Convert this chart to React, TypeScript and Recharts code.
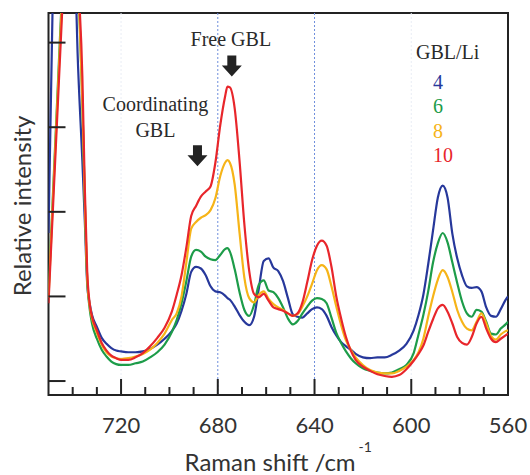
import { LineChart, Line, XAxis, YAxis, ReferenceLine, ReferenceArea, ReferenceDot, Legend } from 'recharts'

// Raman shift (cm-1)
const shifts = [
  750, 748, 746, 744, 742, 740, 738, 736, 735, 734,
  733, 732, 730, 728, 726, 724, 722, 720, 717, 714,
  711, 708, 705, 702, 699, 697, 695, 693, 691, 689,
  687, 685, 683, 681, 679, 677, 676, 675, 673, 671,
  669, 667, 665, 663, 661, 659, 657, 655, 653, 651,
  649, 647, 645, 643, 641, 639, 637, 635, 633, 631,
  629, 627, 625, 623, 620, 617, 614, 611, 608, 605,
  602, 599, 597, 595, 593, 591, 589, 587, 585, 583,
  581, 579, 577, 575, 573, 571, 569, 567, 565, 563,
  561, 560,
]

// relative intensity, GBL/Li = 4
const gblLi4 = [
  1.75, 4.9, 6.5, 7.5, 7.6, 6.0, 3.9, 2.6, 1.9, 1.15,
  0.92, 0.78, 0.64, 0.51, 0.44, 0.39, 0.36, 0.35, 0.34, 0.34,
  0.35, 0.38, 0.43, 0.5, 0.59, 0.68, 0.83, 1.03, 1.29, 1.35,
  1.33, 1.25, 1.12, 1.06, 1.05, 1.01, 0.98, 0.96, 0.88, 0.78,
  0.7, 0.66, 0.76, 1.1, 1.42, 1.45, 1.34, 1.3, 1.18, 0.98,
  0.79, 0.76, 0.75, 0.8, 0.85, 0.87, 0.85, 0.77, 0.64, 0.54,
  0.46, 0.41, 0.37, 0.32, 0.28, 0.27, 0.28, 0.28, 0.31, 0.36,
  0.44, 0.6, 0.78, 1.02, 1.38, 1.78, 2.17, 2.31, 2.17, 1.74,
  1.45, 1.25, 1.12, 1.1, 1.11, 1.06, 0.87, 0.77, 0.76, 0.85,
  0.96, 1.0,
]

// GBL/Li = 6
const gblLi6 = [
  1.04, 2.31, 3.58, 4.85, 6.1, 6.2, 5.0, 3.3, 2.15, 1.2,
  0.86, 0.68, 0.5, 0.37, 0.29, 0.23, 0.2, 0.19, 0.19, 0.21,
  0.23, 0.28, 0.34, 0.43, 0.58, 0.72, 0.92, 1.18, 1.47, 1.55,
  1.53, 1.47, 1.44, 1.43, 1.49, 1.56, 1.57, 1.53, 1.32, 1.05,
  0.84, 0.77, 0.9, 1.14, 1.19, 1.07, 1.05, 0.98, 0.87, 0.74,
  0.67, 0.71, 0.8, 0.88, 0.95, 0.98, 0.97, 0.92, 0.75, 0.57,
  0.45, 0.35, 0.27, 0.21, 0.15, 0.12, 0.1, 0.09, 0.1, 0.14,
  0.19, 0.33, 0.55, 0.78, 1.06, 1.4, 1.63, 1.75, 1.64, 1.4,
  1.16, 0.94, 0.8, 0.76, 0.84, 0.82, 0.7, 0.56, 0.55, 0.62,
  0.67, 0.7,
]

// GBL/Li = 8
const gblLi8 = [
  0.98, 2.25, 3.5, 4.75, 6.0, 6.2, 5.0, 3.3, 2.15, 1.22,
  0.9, 0.74, 0.57, 0.43, 0.34, 0.29, 0.27, 0.26, 0.27, 0.29,
  0.32, 0.37, 0.45, 0.56, 0.72, 0.8, 1.0, 1.4, 1.8, 1.88,
  1.93, 1.96, 2.02, 2.16, 2.42, 2.58, 2.61, 2.58, 2.32, 1.75,
  1.22, 0.98, 0.93, 1.02, 1.06, 0.97, 0.91, 0.87, 0.84, 0.8,
  0.77, 0.79, 0.88, 1.0, 1.15, 1.31, 1.37, 1.32, 1.12, 0.88,
  0.66, 0.48, 0.37, 0.28, 0.19, 0.13, 0.1, 0.09, 0.09, 0.12,
  0.17, 0.25, 0.34, 0.5, 0.76, 1.0, 1.2, 1.31, 1.23, 1.05,
  0.84, 0.7, 0.62, 0.6, 0.7, 0.8, 0.68, 0.53, 0.49, 0.55,
  0.59, 0.6,
]

// GBL/Li = 10
const gblLi10 = [
  0.92, 2.14, 3.36, 4.58, 5.8, 6.4, 4.9, 3.6, 2.3, 1.3,
  0.92, 0.76, 0.6, 0.45, 0.36, 0.3, 0.27, 0.25, 0.25, 0.28,
  0.33, 0.41, 0.51, 0.63, 0.82, 1.02, 1.25, 1.58, 1.95, 2.07,
  2.18, 2.24, 2.3, 2.58, 3.02, 3.36, 3.48, 3.47, 3.22, 2.6,
  1.85, 1.3, 1.03, 0.99, 1.03, 0.95, 0.87, 0.85, 0.83, 0.8,
  0.77, 0.8, 0.93, 1.17, 1.43, 1.6, 1.66, 1.6, 1.35, 1.0,
  0.74, 0.52, 0.36, 0.25, 0.17, 0.12, 0.08, 0.06, 0.05, 0.07,
  0.14, 0.24, 0.32, 0.42, 0.58, 0.73, 0.86, 0.9, 0.82, 0.68,
  0.52, 0.45, 0.43, 0.52, 0.68, 0.76, 0.62, 0.5, 0.46, 0.5,
  0.54, 0.56,
]

const xTicks = [740, 730, 720, 710, 700, 690, 680, 670, 660, 650, 640, 630, 620, 610, 600, 590, 580, 570, 560]
const xTickLabels = [720, 680, 640, 600, 560]
const yTicks = [0, 1, 2, 3, 4]
const dottedShifts = [680, 640]
const faintShifts = [720, 600]

const X_MIN = 560
const X_MAX = 750
const Y_MIN = -0.165
const Y_MAX = 4.35

const seriesList = [
  { key: 'r4', name: '4', color: '#27389b' },
  { key: 'r6', name: '6', color: '#1d9c49' },
  { key: 'r8', name: '8', color: '#f6b418' },
  { key: 'r10', name: '10', color: '#e8262b' },
]
const legendOrder = seriesList.map((s) => s.name)

// arrow tips and annotation baselines, in data units
const arrows = [
  { shift: 674.2, level: 3.6 },
  { shift: 688.4, level: 2.54 },
]
const notes = [
  { shift: 674.6, level: 3.955, text: 'Free GBL' },
  { shift: 705.8, level: 3.19, text: 'Coordinating' },
  { shift: 705.8, level: 2.89, text: 'GBL' },
]

const chartData = shifts.map((shift, i) => ({
  shift,
  r4: gblLi4[i],
  r6: gblLi6[i],
  r8: gblLi8[i],
  r10: gblLi10[i],
}))

const SERIF = '"Liberation Serif", "Times New Roman", serif'
const SANS = 'Lato, "Open Sans", sans-serif'
const INK = '#232323'

const XTick = ({ x, y, payload }: any) => {
  const major = xTickLabels.includes(payload.value)
  return (
    <g>
      <line x1={x} y1={y} x2={x} y2={y - (major ? 16 : 8)} stroke={INK} strokeWidth={2} />
      {major && (
        <text x={x} y={y + 38} textAnchor="middle" fontFamily={SANS} fontSize={22} fill="#333">
          {payload.value}
        </text>
      )}
    </g>
  )
}

const YTick = ({ x, y }: any) => (
  <line x1={x} y1={y} x2={x + 17} y2={y} stroke={INK} strokeWidth={2} />
)

const XTitle = (props: any) => {
  const vb = props.viewBox ?? { x: 48.5, y: 395, width: 459, height: 80 }
  return (
    <text x={vb.x + vb.width / 2} y={vb.y + 76} textAnchor="middle" fontFamily={SANS} fontSize={24} fill="#333">
      Raman shift /cm
      <tspan fontSize={14} dx={3} dy={-19}>-1</tspan>
    </text>
  )
}

const YTitle = (props: any) => {
  const vb = props.viewBox ?? { x: 0, y: 13, width: 48.5, height: 382 }
  const cx = vb.x + vb.width / 2 - 3
  const cy = vb.y + vb.height / 2 + 2
  return (
    <text
      x={cx}
      y={cy}
      transform={`rotate(-90 ${cx} ${cy})`}
      textAnchor="middle"
      dominantBaseline="central"
      fontFamily={SANS}
      fontSize={24}
      fill="#333"
    >
      Relative intensity
    </text>
  )
}

const DownArrow = ({ cx, cy }: any) => (
  <path
    d={`M${cx - 4.5},${cy - 21} L${cx + 4.5},${cy - 21} L${cx + 4.5},${cy - 11} L${cx + 10},${cy - 11} L${cx},${cy} L${cx - 10},${cy - 11} L${cx - 4.5},${cy - 11} Z`}
    fill={INK}
  />
)

const LegendBox = ({ payload }: any) => {
  const items = [...(payload ?? [])].sort(
    (a: any, b: any) => legendOrder.indexOf(String(a.value)) - legendOrder.indexOf(String(b.value))
  )
  return (
    <div style={{ fontFamily: SERIF, fontSize: 20, lineHeight: '24px' }}>
      <div style={{ color: '#2a2a2a' }}>GBL/Li</div>
      <div style={{ marginTop: 6, paddingLeft: 17 }}>
        {items.map((entry: any) => (
          <div key={entry.value} style={{ color: entry.color, lineHeight: '24.3px' }}>
            {entry.value}
          </div>
        ))}
      </div>
    </div>
  )
}

export default function App() {
  return (
    <>
      <style>{'body{margin:0}'}</style>
      <LineChart width={530} height={475} data={chartData} margin={{ top: 13, right: 22, bottom: 0, left: 0 }}>
        <XAxis
          dataKey="shift"
          type="number"
          domain={[X_MIN, X_MAX]}
          reversed
          allowDataOverflow
          ticks={xTicks}
          interval={0}
          tickSize={0}
          tickMargin={0}
          axisLine={false}
          tick={(p: any) => <XTick {...p} />}
          height={80}
          label={{ content: (p: any) => <XTitle {...p} /> }}
        />
        <YAxis
          type="number"
          domain={[Y_MIN, Y_MAX]}
          allowDataOverflow
          ticks={yTicks}
          interval={0}
          tickSize={0}
          tickMargin={0}
          axisLine={false}
          tick={(p: any) => <YTick {...p} />}
          width={48.5}
          label={{ content: (p: any) => <YTitle {...p} /> }}
        />
        {faintShifts.map((s) => (
          <ReferenceLine key={`f${s}`} x={s} stroke="#e9edf5" strokeWidth={1} strokeDasharray="2 2" />
        ))}
        {dottedShifts.map((s) => (
          <ReferenceLine key={`d${s}`} x={s} stroke="#6e8fdc" strokeWidth={1} strokeDasharray="2 2" />
        ))}
        {seriesList.map((s) => (
          <Line
            key={s.key}
            dataKey={s.key}
            name={s.name}
            type="monotone"
            stroke={s.color}
            strokeWidth={2.2}
            dot={false}
            activeDot={false}
            isAnimationActive={false}
          />
        ))}
        <ReferenceArea
          x1={X_MAX}
          x2={X_MIN}
          y1={Y_MIN}
          y2={Y_MAX}
          fill="none"
          fillOpacity={0}
          stroke={INK}
          strokeWidth={2}
          ifOverflow="visible"
        />
        {arrows.map((a, i) => (
          <ReferenceDot key={`a${i}`} x={a.shift} y={a.level} r={0} shape={(p: any) => <DownArrow {...p} />} />
        ))}
        {notes.map((n, i) => (
          <ReferenceDot
            key={`n${i}`}
            x={n.shift}
            y={n.level}
            r={0}
            shape={(p: any) => (
              <text x={p.cx} y={p.cy} textAnchor="middle" fontFamily={SERIF} fontSize={20} fill="#2a2a2a">
                {n.text}
              </text>
            )}
          />
        ))}
        <Legend
          layout="vertical"
          align="center"
          verticalAlign="middle"
          wrapperStyle={{ left: 416, top: 40, width: 80 }}
          content={(p: any) => <LegendBox {...p} />}
        />
      </LineChart>
    </>
  )
}
